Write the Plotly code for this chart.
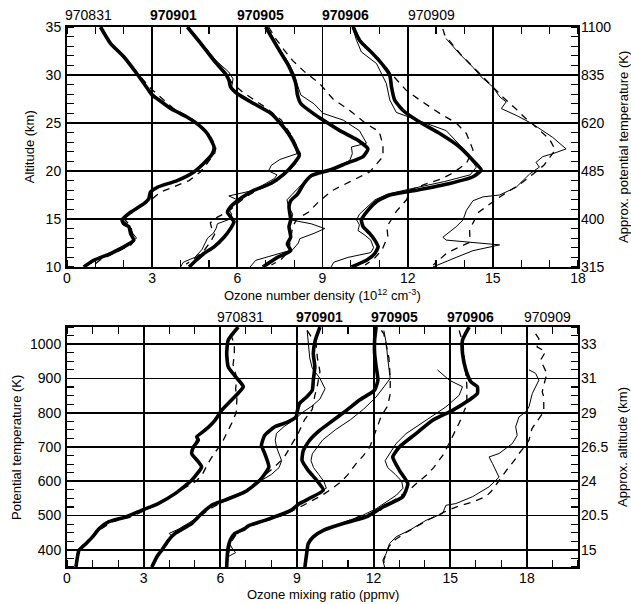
import plotly.graph_objects as go

# ---------------- TOP PANEL: ozone number density vs altitude ----------------
# 970831
t831_thick_z = [35, 33.3, 31.9, 30.1, 28.4, 27.9, 27.4, 26.5, 25.6, 24.9, 23.9, 22.5, 21.8, 20.8, 19.9, 19.0, 18.3, 17.8, 17.1, 16.6, 15.7, 14.9, 14.5, 14.2, 13.5, 12.8, 12.3, 11.4, 10.7, 10.0]
t831_thick_v = [1.18, 1.53, 2.0, 2.47, 2.88, 3.0, 3.24, 3.65, 4.24, 4.59, 4.94, 5.18, 5.12, 4.82, 4.47, 3.88, 3.18, 2.94, 2.88, 2.71, 2.24, 1.94, 2.0, 2.18, 2.24, 2.35, 2.12, 1.53, 0.94, 0.59]
t831_thin_z = [35, 33.3, 31.9, 30.1, 28.4, 27.4, 26.5, 25.6, 24.9, 23.9, 22.5, 21.8, 20.8, 19.9, 19.0, 18.3, 17.8, 17.1, 16.6, 15.7, 14.9, 14.2, 13.5, 13.0, 12.5, 11.4, 10.7, 10.0]
t831_thin_v = [1.2, 1.55, 2.02, 2.5, 2.9, 3.28, 3.68, 4.26, 4.6, 4.96, 5.2, 5.14, 4.85, 4.5, 3.9, 3.22, 2.98, 2.9, 2.72, 2.27, 1.98, 2.2, 2.32, 2.45, 2.2, 1.6, 1.0, 0.65]
t831_dash_z = [35, 33.3, 31.9, 30.1, 28.6, 27.4, 26.5, 25.6, 24.9, 23.9, 22.5, 21.8, 20.8, 19.9, 19.0, 18.3, 17.8, 17.1, 16.6, 15.7, 14.9, 14.2, 13.5, 12.8, 12.3, 11.4, 10.7, 10.2]
t831_dash_v = [1.2, 1.56, 2.03, 2.5, 2.95, 3.42, 3.75, 4.3, 4.65, 5.0, 5.25, 5.2, 4.95, 4.7, 4.3, 3.7, 3.3, 3.0, 2.75, 2.3, 2.05, 2.25, 2.3, 2.4, 2.25, 1.65, 1.15, 0.95]

# 970901
t901_thick_z = [35, 33.3, 31.5, 30.1, 29.4, 28.75, 28.05, 27.0, 26.0, 24.9, 23.5, 21.6, 20.8, 19.7, 18.7, 18.0, 17.6, 16.9, 16.25, 15.7, 15.0, 14.7, 14.0, 13.1, 12.1, 11.4, 10.7, 10.0]
t901_thick_v = [4.24, 4.71, 5.18, 5.59, 5.71, 5.76, 6.0, 6.59, 7.18, 7.53, 7.88, 8.18, 8.0, 7.65, 7.18, 6.59, 6.35, 6.0, 5.76, 5.65, 5.82, 5.88, 5.76, 5.53, 5.18, 4.82, 4.55, 4.3]
t901_thin_z = [35, 33.3, 31.5, 30.3, 29.6, 28.75, 28.05, 27.0, 26.0, 24.9, 23.5, 21.8, 21.2, 20.6, 20.0, 19.6, 19.2, 18.7, 18.0, 17.4, 17.0, 16.5, 16.0, 15.5, 15.0, 14.5, 14.0, 13.5, 13.0, 12.4, 11.8, 11.0, 10.5, 10.0]
t901_thin_v = [4.28, 4.75, 5.25, 5.7, 5.85, 5.8, 6.05, 6.65, 7.25, 7.6, 7.95, 8.1, 7.5, 7.2, 7.1, 7.4, 7.3, 7.0, 6.6, 5.7, 6.0, 5.9, 5.7, 5.8, 5.75, 5.3, 5.25, 5.15, 4.95, 4.85, 4.75, 4.5, 4.1, 4.0]
t901_dash_z = [35, 33.3, 31.5, 30.1, 29.2, 28.3, 27.5, 26.5, 25.3, 23.5, 21.8, 20.8, 19.7, 18.7, 18.0, 17.3, 16.5, 15.8, 15.2, 14.6, 14.0, 13.4, 12.6, 11.8, 11.0, 10.3]
t901_dash_v = [4.26, 4.73, 5.2, 5.62, 5.8, 6.15, 6.55, 7.05, 7.55, 7.95, 8.22, 8.05, 7.7, 7.25, 6.7, 6.3, 5.95, 5.7, 5.3, 5.05, 5.1, 5.2, 5.05, 4.85, 4.55, 4.2]

# 970905
t905_thick_z = [35, 32.9, 31.2, 30.1, 29.1, 27.9, 27.0, 26.0, 25.3, 24.2, 23.2, 22.3, 21.5, 20.8, 20.1, 19.5, 18.7, 17.6, 16.9, 16.25, 14.9, 14.2, 13.1, 12.4, 11.7, 11.0, 10.0]
t905_thick_v = [7.0, 7.41, 7.76, 7.94, 8.06, 8.12, 8.24, 8.67, 9.02, 9.61, 10.25, 10.6, 10.43, 9.84, 9.26, 8.6, 8.35, 8.12, 7.88, 7.82, 7.88, 7.82, 7.88, 7.76, 7.88, 7.41, 6.9]
t905_thin_z = [35, 32.9, 31.2, 30.1, 29.1, 27.9, 27.0, 26.0, 25.3, 24.2, 22.9, 22.5, 21.8, 21.1, 20.4, 19.7, 18.7, 17.8, 17.0, 16.3, 15.5, 14.9, 14.5, 14.0, 13.5, 12.95, 12.5, 11.8, 11.2, 10.7, 10.0]
t905_thin_v = [7.05, 7.45, 7.82, 8.0, 8.1, 8.24, 8.7, 9.02, 9.73, 10.3, 10.55, 10.02, 10.05, 9.96, 9.5, 8.67, 8.3, 8.0, 7.75, 7.8, 7.95, 7.9, 8.6, 9.08, 8.7, 8.2, 8.15, 7.95, 7.2, 6.65, 6.45]
t905_dash_z = [35, 33.8, 32.6, 31.5, 30.3, 29.1, 27.5, 26.3, 24.9, 24.1, 22.7, 21.5, 19.9, 18.85, 18.0, 16.9, 15.7, 15.0, 14.2, 13.3, 12.5, 11.6, 10.8, 10.2]
t905_dash_v = [7.1, 7.35, 7.65, 7.95, 8.38, 8.9, 9.37, 9.96, 10.55, 11.0, 11.13, 11.13, 10.66, 9.96, 9.37, 8.9, 8.5, 8.1, 7.95, 7.9, 7.85, 7.8, 7.55, 7.2]

# 970906
t906_thick_z = [35, 33.6, 32.2, 30.8, 30.0, 28.75, 27.4, 26.3, 25.1, 23.9, 22.5, 21.1, 20.1, 19.4, 18.7, 18.0, 17.5, 16.8, 15.9, 14.9, 14.2, 13.5, 12.8, 12.1, 11.4, 10.7, 10.0]
t906_thick_v = [10.08, 10.31, 10.78, 11.19, 11.37, 11.43, 11.54, 11.84, 12.42, 13.13, 13.83, 14.3, 14.59, 14.3, 13.48, 12.31, 11.37, 10.9, 10.6, 10.37, 10.43, 10.66, 10.84, 10.96, 10.84, 10.55, 10.02]
t906_thin_z = [35, 33.6, 32.4, 31.2, 29.1, 27.4, 26.1, 25.6, 24.2, 22.5, 21.8, 20.4, 19.6, 18.9, 18.2, 17.6, 17.0, 16.2, 15.5, 14.9, 14.4, 13.8, 13.3, 12.8, 12.0, 11.5, 11.0, 10.5, 10.0]
t906_thin_v = [10.05, 10.2, 10.37, 10.9, 11.25, 11.37, 11.6, 12.07, 13.36, 13.9, 14.07, 14.42, 14.2, 13.3, 12.2, 11.3, 10.85, 10.55, 10.3, 10.2, 10.3, 10.25, 10.5, 10.7, 10.8, 10.7, 9.9, 9.4, 9.3]
t906_dash_z = [35, 33.5, 32.0, 30.3, 28.4, 27.4, 26.0, 25.0, 23.9, 22.2, 20.8, 19.8, 19.2, 18.6, 18.0, 17.0, 15.8, 14.8, 14.2, 13.2, 11.8, 10.8, 10.2]
t906_dash_v = [10.1, 10.35, 10.9, 11.37, 11.95, 12.42, 13.13, 13.71, 14.07, 14.3, 14.07, 13.6, 13.2, 12.6, 12.1, 11.96, 11.6, 11.4, 11.27, 11.3, 11.1, 10.8, 10.5]

# 970909
t909_thin_z = [33.8, 32.2, 30.8, 29.8, 28.75, 27.7, 27.2, 26.5, 25.8, 24.9, 23.5, 22.3, 21.8, 21.5, 20.9, 20.4, 19.7, 18.3, 17.5, 17.3, 16.9, 15.9, 14.9, 14.2, 13.1, 12.8, 12.3, 11.7, 11.0, 10.0]
t909_thin_v = [13.35, 13.83, 14.3, 14.59, 15.0, 15.25, 15.47, 15.3, 15.82, 16.4, 17.11, 17.58, 17.11, 16.76, 16.52, 16.64, 16.3, 15.82, 15.24, 14.65, 14.3, 14.07, 13.95, 13.71, 13.24, 13.36, 15.24, 14.3, 13.71, 12.89]
t909_dash_z = [34.8, 34.2, 32.2, 30.8, 29.8, 28.75, 27.7, 26.5, 25.5, 24.5, 23.3, 22.2, 21.4, 20.6, 19.4, 18.5, 17.7, 17.0, 15.7, 14.6, 13.9, 12.6, 11.5, 10.2]
t909_dash_v = [13.24, 13.3, 13.85, 14.32, 14.62, 15.0, 15.35, 15.8, 16.15, 16.55, 17.0, 17.2, 17.0, 16.8, 16.3, 15.9, 15.45, 15.1, 14.5, 14.3, 14.18, 14.2, 13.4, 12.9]

# ---------------- BOTTOM PANEL: mixing ratio vs potential temperature ----------------
b831_thick_t = [1050, 1012, 973, 934, 905, 876, 837, 807, 778, 749, 730, 720, 700, 681, 657, 642, 603, 564, 535, 516, 496, 482, 462, 438, 418, 399, 380, 350]
b831_thick_v = [6.70, 6.31, 6.25, 6.31, 6.6, 6.9, 6.44, 6.05, 5.79, 5.4, 5.08, 5.14, 4.95, 4.88, 5.14, 5.27, 4.88, 4.23, 3.57, 2.94, 2.29, 1.64, 1.26, 1.0, 0.74, 0.47, 0.41, 0.35]
b831_thin_t = [1045, 1012, 973, 934, 905, 876, 837, 807, 778, 749, 730, 700, 681, 657, 642, 603, 564, 535, 516, 496, 482, 462, 438, 418, 399, 380, 350]
b831_thin_v = [6.65, 6.33, 6.27, 6.33, 6.58, 6.85, 6.46, 6.07, 5.8, 5.42, 5.1, 4.97, 4.9, 5.16, 5.28, 4.9, 4.25, 3.6, 2.98, 2.35, 1.68, 1.3, 1.02, 0.76, 0.5, 0.43, 0.37]
b831_dash_t = [1030, 1000, 970, 940, 900, 870, 840, 800, 770, 740, 710, 680, 650, 620, 600, 570, 540, 515, 495, 482, 462, 440, 420, 400, 380, 350]
b831_dash_v = [6.4, 6.55, 6.55, 6.5, 6.65, 6.6, 6.65, 6.62, 6.45, 6.25, 6.05, 5.75, 5.5, 5.3, 5.05, 4.35, 3.7, 3.05, 2.45, 1.8, 1.35, 1.05, 0.8, 0.5, 0.42, 0.36]

b901_thick_t = [1050, 1012, 973, 934, 895, 866, 846, 827, 800, 788, 773, 759, 734, 705, 681, 642, 603, 569, 545, 530, 506, 477, 448, 428, 399, 380, 350]
b901_thick_v = [9.9, 9.72, 9.64, 9.7, 9.64, 9.6, 9.38, 9.1, 9.0, 8.97, 8.65, 8.13, 7.74, 7.61, 7.74, 7.9, 7.55, 6.96, 6.18, 5.66, 5.27, 4.88, 4.23, 3.97, 3.71, 3.52, 3.32]
b901_thin_t = [1040, 1000, 960, 930, 900, 870, 840, 820, 800, 780, 760, 740, 720, 700, 680, 660, 640, 620, 600, 580, 560, 540, 520, 500, 480, 460, 448, 440, 420, 400, 380, 350]
b901_thin_v = [9.4, 9.45, 9.5, 9.6, 9.9, 10.1, 9.9, 9.6, 9.2, 8.9, 8.5, 8.2, 8.15, 8.2, 8.3, 8.4, 8.3, 8.0, 7.55, 7.2, 6.6, 5.9, 5.5, 5.2, 4.8, 4.35, 4.0, 4.1, 3.95, 3.72, 3.52, 3.32]
b901_dash_t = [1040, 1000, 960, 920, 880, 850, 810, 780, 740, 700, 670, 640, 610, 580, 560, 540, 520, 500, 480, 460, 440, 420, 400, 380, 350]
b901_dash_v = [9.4, 9.75, 9.8, 9.9, 9.8, 9.7, 9.6, 9.3, 9.05, 8.75, 8.5, 8.1, 7.6, 7.15, 6.7, 6.1, 5.6, 5.25, 4.95, 4.55, 4.15, 3.9, 3.7, 3.5, 3.3]

b905_thick_t = [1050, 1012, 973, 934, 895, 866, 837, 807, 778, 749, 720, 690, 661, 632, 603, 574, 535, 516, 501, 486, 470, 462, 448, 430, 409, 380, 350]
b905_thick_v = [12.1, 12.04, 12.04, 12.1, 12.17, 12.04, 11.45, 10.94, 10.42, 9.9, 9.5, 9.25, 9.2, 9.44, 9.77, 10.03, 9.1, 8.78, 8.3, 7.74, 7.1, 6.96, 6.57, 6.4, 6.31, 6.27, 6.25]
b905_thin_t = [1040, 1000, 960, 920, 900, 875, 846, 810, 780, 750, 720, 700, 680, 660, 640, 620, 600, 580, 560, 540, 520, 500, 486, 470, 455, 440, 420, 400, 392, 380, 350]
b905_thin_v = [12.4, 12.5, 12.55, 12.6, 12.65, 12.4, 12.1, 11.6, 11.1, 10.5, 10.0, 9.8, 9.6, 9.55, 9.65, 9.85, 10.05, 10.15, 9.7, 9.3, 8.85, 8.35, 7.8, 7.1, 6.7, 6.5, 6.35, 6.5, 6.6, 6.3, 6.25]
b905_dash_t = [1040, 1030, 995, 960, 900, 855, 820, 790, 760, 730, 700, 675, 650, 620, 600, 580, 560, 540, 520, 500, 486, 470, 448, 420, 400, 380, 350]
b905_dash_v = [12.3, 12.4, 12.5, 12.6, 12.65, 12.65, 12.55, 12.3, 12.15, 12.0, 11.85, 11.6, 11.3, 11.0, 10.75, 10.4, 10.0, 9.5, 9.0, 8.4, 7.85, 7.2, 6.65, 6.4, 6.35, 6.3, 6.26]

b906_thick_t = [1050, 1012, 973, 925, 890, 876, 856, 837, 807, 778, 739, 700, 671, 632, 593, 555, 525, 496, 477, 457, 438, 418, 389, 350]
b906_thick_v = [15.74, 15.48, 15.48, 15.61, 15.81, 16.06, 16.06, 15.74, 15.09, 14.31, 13.66, 13.01, 12.75, 13.01, 13.34, 13.14, 12.36, 11.71, 10.81, 10.03, 9.64, 9.44, 9.38, 9.31]
b906_thin_t = [925, 895, 876, 851, 817, 778, 739, 710, 681, 660, 640, 620, 600, 580, 560, 540, 520, 500, 480, 460, 440, 420, 390, 350]
b906_thin_v = [14.5, 14.96, 15.48, 15.35, 14.83, 14.05, 13.27, 12.88, 12.62, 12.45, 12.55, 12.85, 13.1, 13.15, 12.9, 12.5, 12.1, 11.55, 10.85, 10.1, 9.7, 9.45, 9.37, 9.3]
b906_dash_t = [1040, 1000, 960, 920, 880, 840, 815, 770, 720, 680, 640, 620, 595, 575, 550, 525, 510, 501, 490, 475, 460, 440, 420, 390, 350]
b906_dash_v = [15.35, 15.5, 15.55, 15.6, 15.65, 15.65, 15.6, 15.35, 15.0, 14.75, 14.35, 14.1, 13.7, 13.4, 12.9, 12.4, 12.2, 11.56, 11.2, 10.7, 10.15, 9.7, 9.45, 9.36, 9.3]

b909_thin_t = [925, 915, 895, 876, 856, 817, 802, 788, 759, 734, 710, 681, 671, 652, 632, 612, 584, 555, 535, 530, 506, 486, 457, 438, 418, 389, 370, 350]
b909_thin_v = [18.08, 18.34, 18.47, 18.34, 18.21, 18.08, 17.95, 17.69, 17.56, 17.62, 17.43, 16.91, 16.52, 16.65, 16.78, 16.91, 16.52, 15.87, 15.22, 14.83, 14.7, 14.05, 13.4, 12.88, 12.62, 12.49, 12.36, 12.43]
b909_dash_t = [1030, 1016, 992, 978, 953, 943, 914, 900, 861, 846, 817, 803, 769, 754, 720, 705, 681, 666, 632, 600, 570, 556, 540, 527, 510, 490, 470, 450, 430, 410, 390, 370, 350]
b909_dash_v = [18.34, 18.47, 18.4, 18.73, 18.53, 18.6, 18.79, 18.73, 18.6, 18.66, 18.66, 18.66, 18.34, 18.2, 18.08, 17.95, 17.69, 17.56, 17.2, 16.9, 16.6, 16.4, 15.9, 15.3, 14.75, 14.2, 13.7, 13.25, 12.85, 12.6, 12.5, 12.4, 12.42]

# ---------------- labels ----------------
dates = ["970831", "970901", "970905", "970906", "970909"]
dates_bold = [False, True, True, True, False]
top_date_x = [0.75, 3.75, 6.8, 9.8, 12.85]
bot_date_x = [6.8, 9.88, 12.8, 15.8, 18.8]

top_x_ticks = [0, 3, 6, 9, 12, 15, 18]
top_y_ticks = [10, 15, 20, 25, 30, 35]
top_right_labels = ["315", "400", "485", "620", "835", "1100"]
bot_x_ticks = [0, 3, 6, 9, 12, 15, 18]
bot_y_ticks = [400, 500, 600, 700, 800, 900, 1000]
bot_right_labels = ["15", "20.5", "24", "26.5", "29", "31", "33"]

FONT = "Liberation Sans"
THICK = dict(color="black", width=3.6, shape="spline", smoothing=0.5)
THIN = dict(color="black", width=1.0)
DASH = dict(color="black", width=1.3, dash="7px,6px")

fig = go.Figure()

top_lines = [
    (t831_thick_v, t831_thick_z, THICK), (t831_thin_v, t831_thin_z, THIN), (t831_dash_v, t831_dash_z, DASH),
    (t901_thick_v, t901_thick_z, THICK), (t901_thin_v, t901_thin_z, THIN), (t901_dash_v, t901_dash_z, DASH),
    (t905_thick_v, t905_thick_z, THICK), (t905_thin_v, t905_thin_z, THIN), (t905_dash_v, t905_dash_z, DASH),
    (t906_thick_v, t906_thick_z, THICK), (t906_thin_v, t906_thin_z, THIN), (t906_dash_v, t906_dash_z, DASH),
    (t909_thin_v, t909_thin_z, THIN), (t909_dash_v, t909_dash_z, DASH),
]
for xv, yv, ln in top_lines:
    fig.add_trace(go.Scatter(x=xv, y=yv, mode="lines", line=ln, xaxis="x", yaxis="y",
                             showlegend=False, hoverinfo="skip"))

bot_lines = [
    (b831_thick_v, b831_thick_t, THICK), (b831_thin_v, b831_thin_t, THIN), (b831_dash_v, b831_dash_t, DASH),
    (b901_thick_v, b901_thick_t, THICK), (b901_thin_v, b901_thin_t, THIN), (b901_dash_v, b901_dash_t, DASH),
    (b905_thick_v, b905_thick_t, THICK), (b905_thin_v, b905_thin_t, THIN), (b905_dash_v, b905_dash_t, DASH),
    (b906_thick_v, b906_thick_t, THICK), (b906_thin_v, b906_thin_t, THIN), (b906_dash_v, b906_dash_t, DASH),
    (b909_thin_v, b909_thin_t, THIN), (b909_dash_v, b909_dash_t, DASH),
]
for xv, yv, ln in bot_lines:
    fig.add_trace(go.Scatter(x=xv, y=yv, mode="lines", line=ln, xaxis="x2", yaxis="y2",
                             showlegend=False, hoverinfo="skip"))

# empty traces so the right-hand label axes are instantiated
fig.add_trace(go.Scatter(x=[], y=[], xaxis="x", yaxis="y3", showlegend=False))
fig.add_trace(go.Scatter(x=[], y=[], xaxis="x2", yaxis="y4", showlegend=False))

tickfont = dict(family=FONT, size=14, color="black")
minor_x = dict(dtick=1, ticks="inside", ticklen=7, tickwidth=1.2, tickcolor="black", showgrid=False)

common_x = dict(showline=True, linecolor="black", linewidth=2, mirror="ticks", ticks="",
                showgrid=True, gridcolor="black", gridwidth=1.8, zeroline=False,
                tickfont=tickfont, fixedrange=True, ticklabelstandoff=-3)
common_y = dict(showline=True, linecolor="black", linewidth=2, mirror="ticks", ticks="",
                showgrid=True, gridcolor="black", gridwidth=1.8, zeroline=False,
                tickfont=tickfont, fixedrange=True, ticklabelstandoff=1)

TOP_DOM = [0.5556, 1.0]
BOT_DOM = [0.0, 0.4444]

fig.update_layout(
    width=631, height=604,
    margin=dict(l=67, r=53, t=27, b=37),
    paper_bgcolor="white", plot_bgcolor="white",
    font=dict(family=FONT, color="black"),
    xaxis=dict(domain=[0, 1], anchor="y", range=[0, 18], tickmode="array", tickvals=top_x_ticks,
               minor=minor_x, **common_x),
    yaxis=dict(domain=TOP_DOM, anchor="x", range=[10, 35], tickmode="array", tickvals=top_y_ticks,
               minor=dict(dtick=1, ticks="inside", ticklen=7, tickwidth=1.2, tickcolor="black", showgrid=False),
               **common_y),
    yaxis3=dict(overlaying="y", anchor="x", side="right", range=[10, 35], tickmode="array",
                tickvals=top_y_ticks, ticktext=top_right_labels, showgrid=False, zeroline=False,
                showline=False, ticks="", tickfont=tickfont, fixedrange=True, ticklabelstandoff=2),
    xaxis2=dict(domain=[0, 1], anchor="y2", range=[0, 20], tickmode="array", tickvals=bot_x_ticks,
                minor=minor_x, **common_x),
    yaxis2=dict(domain=BOT_DOM, anchor="x2", range=[350, 1050], tickmode="array", tickvals=bot_y_ticks,
                minor=dict(dtick=25, tick0=0, ticks="inside", ticklen=7, tickwidth=1.2, tickcolor="black", showgrid=False),
                **common_y),
    yaxis4=dict(overlaying="y2", anchor="x2", side="right", range=[350, 1050], tickmode="array",
                tickvals=bot_y_ticks, ticktext=bot_right_labels, showgrid=False, zeroline=False,
                showline=False, ticks="", tickfont=tickfont, fixedrange=True, ticklabelstandoff=2),
)

ann = []
title_font = dict(family=FONT, size=13, color="black")
ann.append(dict(text="Altitude (km)", xref="paper", yref="paper", x=-0.072, y=0.7778,
                textangle=-90, showarrow=False, font=title_font, xanchor="center", yanchor="middle"))
ann.append(dict(text="Approx. potential temperature (K)", xref="paper", yref="paper", x=1.09, y=0.7778,
                textangle=-90, showarrow=False, font=title_font, xanchor="center", yanchor="middle"))
ann.append(dict(text="Ozone number density (10<sup>12</sup> cm<sup>-3</sup>)", xref="paper", yref="paper",
                x=0.5, y=0.503, showarrow=False, font=title_font, xanchor="center", yanchor="middle"))
ann.append(dict(text="Potential temperature (K)", xref="paper", yref="paper", x=-0.1, y=0.2222,
                textangle=-90, showarrow=False, font=title_font, xanchor="center", yanchor="middle"))
ann.append(dict(text="Approx. altitude (km)", xref="paper", yref="paper", x=1.086, y=0.2222,
                textangle=-90, showarrow=False, font=title_font, xanchor="center", yanchor="middle"))
ann.append(dict(text="Ozone mixing ratio (ppmv)", xref="paper", yref="paper", x=0.5, y=-0.05,
                showarrow=False, font=title_font, xanchor="center", yanchor="middle"))

for d, b, xt, xb in zip(dates, dates_bold, top_date_x, bot_date_x):
    txt = "<b>%s</b>" % d if b else d
    ann.append(dict(text=txt, xref="x", yref="paper", x=xt, y=1.0222, showarrow=False,
                    font=dict(family=FONT, size=14, color="black"), xanchor="center", yanchor="middle"))
    ann.append(dict(text=txt, xref="x2", yref="paper", x=xb, y=0.4635, showarrow=False,
                    font=dict(family=FONT, size=14, color="black"), xanchor="center", yanchor="middle"))

fig.update_layout(annotations=ann)
fig.write_html("out.html", config={"displayModeBar": False, "staticPlot": True},
               post_script="document.body.style.margin='0';document.body.style.overflow='hidden';")
